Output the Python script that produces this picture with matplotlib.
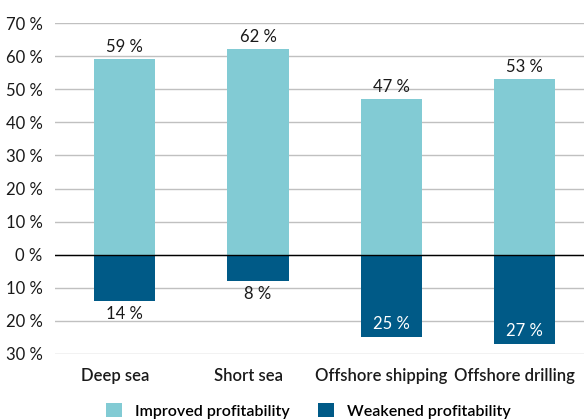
import matplotlib.pyplot as plt
import matplotlib.transforms as mtransforms
import numpy as np
from matplotlib.ticker import FuncFormatter

plt.rcParams['font.family'] = ['Lato', 'DejaVu Sans']

# data
categories = ['Deep sea', 'Short sea', 'Offshore shipping', 'Offshore drilling']
improved = [59, 62, 47, 53]
weakened = [14, 8, 25, 27]

light = '#82cbd4'
dark = '#005a87'
txt = '#1a1a1a'
fs = 12

fig = plt.figure(figsize=(5.84, 4.2), dpi=100)
ax = fig.add_axes([55 / 584, 66 / 420, 529 / 584, 331 / 420])

x = np.arange(len(categories))
w = 0.46
ax.bar(x, improved, w, color=light, label='Improved profitability', zorder=3)
ax.bar(x, [-v for v in weakened], w, color=dark, label='Weakened profitability', zorder=3)

# value labels
for xi, v in zip(x, improved):
    ax.text(xi, v + 1.3, f'{v} %', ha='center', va='bottom', fontsize=fs, color=txt)
for xi, v in zip(x, weakened):
    if v < 20:
        ax.text(xi, -v - 1.6, f'{v} %', ha='center', va='top', fontsize=fs, color=txt)
    else:
        ax.text(xi, -v + 1.6, f'{v} %', ha='center', va='bottom', fontsize=fs, color='white')

ax.set_ylim(-30, 70)
ax.set_xlim(-0.524, 3.445)
ax.set_yticks(np.arange(-30, 71, 10))
ax.yaxis.set_major_formatter(FuncFormatter(lambda v, p: f'{abs(int(v))} %'))
ax.grid(axis='y', color='#c0c0c0', linewidth=1, zorder=0)
ax.axhline(0, color='black', linewidth=1, zorder=4)
ax.tick_params(axis='y', length=0, pad=9, labelsize=fs, labelcolor=txt)
ax.tick_params(axis='x', length=0, pad=10, labelsize=fs)
ax.set_xticks(x)
ax.set_xticklabels(categories, fontweight='semibold', color=txt)
# category labels sit a little left of the bars in the original
shift = mtransforms.ScaledTranslation(-10 / 100, 0, fig.dpi_scale_trans)
for lbl in ax.get_xticklabels():
    lbl.set_transform(lbl.get_transform() + shift)
for s in ax.spines.values():
    s.set_visible(False)

fig.legend(*ax.get_legend_handles_labels(), loc='center', bbox_to_anchor=(0.528, 0.022),
           ncol=2, frameon=False, handlelength=1.0, handleheight=1.0, handletextpad=0.8,
           columnspacing=1.8, borderaxespad=0, borderpad=0,
           prop={'weight': 'semibold', 'size': 11.5})

fig.savefig('out.png', dpi=100)
